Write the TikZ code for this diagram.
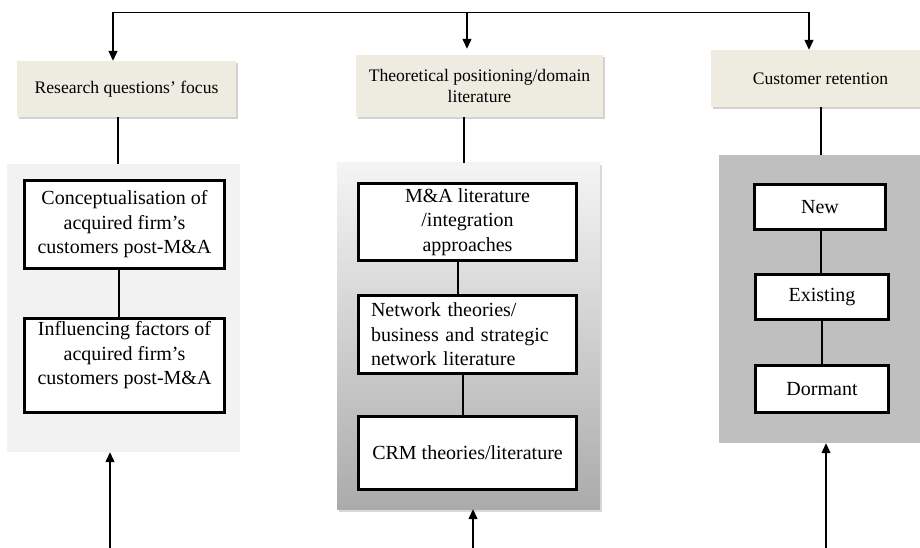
\documentclass[tikz,border=0pt]{standalone}
\usepackage{fontspec}
\setmainfont{Liberation Serif}
\usetikzlibrary{arrows.meta,shadows}

\definecolor{hdrfill}{HTML}{EEECE1}
\definecolor{panellight}{HTML}{F2F2F2}
\definecolor{paneldark}{HTML}{BFBFBF}

\tikzset{
  hdr/.style={fill=hdrfill, inner sep=0pt, align=center,
    font=\fontsize{17.6}{20.5}\selectfont,
    drop shadow={opacity=0.35, shadow xshift=1.5pt, shadow yshift=-2.5pt}},
  panel/.style={inner sep=0pt},
  inbox/.style={draw=black, line width=3pt, fill=white, inner sep=0pt,
    align=center, font=\fontsize{20}{24.5}\selectfont},
  link/.style={line width=1.3pt, draw=black},
  arr/.style={line width=1.3pt, -{Triangle[length=10pt,width=9pt]}}
}

\begin{document}
\begin{tikzpicture}[x=1pt,y=-1pt]
  \clip (0,0) rectangle (920,548);
  \fill[white] (0,0) rectangle (920,548);

  % header boxes
  \node[hdr, minimum width=219pt, minimum height=56pt] (h1) at (126.5,89)
    {Research questions’ focus};
  \node[hdr, minimum width=247pt, minimum height=62pt] (h2) at (479.5,86)
    {Theoretical positioning/domain\\literature};
  \node[hdr, minimum width=219pt, minimum height=57pt] (h3) at (820.5,78.5)
    {Customer retention};

  % background panels
  \node[panel, fill=panellight, minimum width=233pt, minimum height=288pt]
    (p1) at (123.5,308) {};
  \node[panel, top color=panellight!80!white, bottom color=black!33,
    minimum width=263pt, minimum height=346pt,
    drop shadow={opacity=0.3, shadow xshift=1.5pt, shadow yshift=-2.5pt}]
    (p2) at (468.5,336) {};
  \node[panel, fill=paneldark, minimum width=211pt, minimum height=288pt]
    (p3) at (824.5,299) {};

  % left column
  \node[inbox, minimum width=200pt, minimum height=88pt] (a) at (124.5,224.5)
    {Conceptualisation of\\acquired firm’s\\customers post-M\&A};
  \node[inbox, minimum width=200pt, minimum height=94pt] (b) at (124.5,365.5)
    {Influencing factors of\\acquired firm’s\\customers post-M\&A\\~};

  % middle column
  \node[inbox, minimum width=218pt, minimum height=77pt] (c) at (467.5,222)
    {M\&A literature\\/integration\\approaches};
  \node[inbox, minimum width=218pt, minimum height=78pt, text width=193pt,
    align=left] (d) at (467.5,334.5)
    {Network theories/\\business and strategic\\network literature};
  \node[inbox, minimum width=218pt, minimum height=73pt] (e) at (467.5,453)
    {CRM theories/literature};

  % right column
  \node[inbox, minimum width=131pt, minimum height=45pt] (f) at (820,207) {New};
  \node[inbox, minimum width=133pt, minimum height=45pt] (g) at (822,297) {Existing};
  \node[inbox, minimum width=133pt, minimum height=47pt] (hh) at (822,389) {Dormant};

  % top distribution line and arrows into the headers
  \coordinate (t1) at (113,12.5);
  \coordinate (t2) at (467,12.5);
  \coordinate (t3) at (809,12.5);
  \draw[link] (t1) -- (t3);
  \draw[arr] (t1) -- (t1 |- h1.north);
  \draw[arr, shorten >=6pt] (t2) -- (t2 |- h2.north);
  \draw[arr] (t3) -- (t3 |- h3.north);

  % headers to panels
  \draw[link] ([xshift=-8.5pt]h1.south) -- ([xshift=-8.5pt]h1.south |- p1.north);
  \draw[link] ([xshift=-15.5pt]h2.south) -- ([xshift=-15.5pt]h2.south |- p2.north);
  \draw[link] ([xshift=0.5pt]h3.south) -- ([xshift=0.5pt]h3.south |- p3.north);

  % links between stacked boxes
  \draw[link] ([xshift=-5.5pt]a.south) -- ([xshift=-5.5pt]b.north);
  \draw[link] ([xshift=-9.5pt]c.south) -- ([xshift=-9.5pt]d.north);
  \draw[link] ([xshift=-4.5pt]d.south) -- ([xshift=-4.5pt]e.north);
  \draw[link] ([xshift=1pt]f.south) -- ([xshift=1pt]f.south |- g.north);
  \draw[link] (g.south) -- (hh.north);

  % arrows rising from below into the panels
  \coordinate (b1) at (110,548);
  \coordinate (b2) at (473,548);
  \coordinate (b3) at (826,548);
  \draw[arr] (b1) -- (b1 |- p1.south);
  \draw[arr] (b2) -- (b2 |- p2.south);
  \draw[arr] (b3) -- (b3 |- p3.south);
\end{tikzpicture}
\end{document}
